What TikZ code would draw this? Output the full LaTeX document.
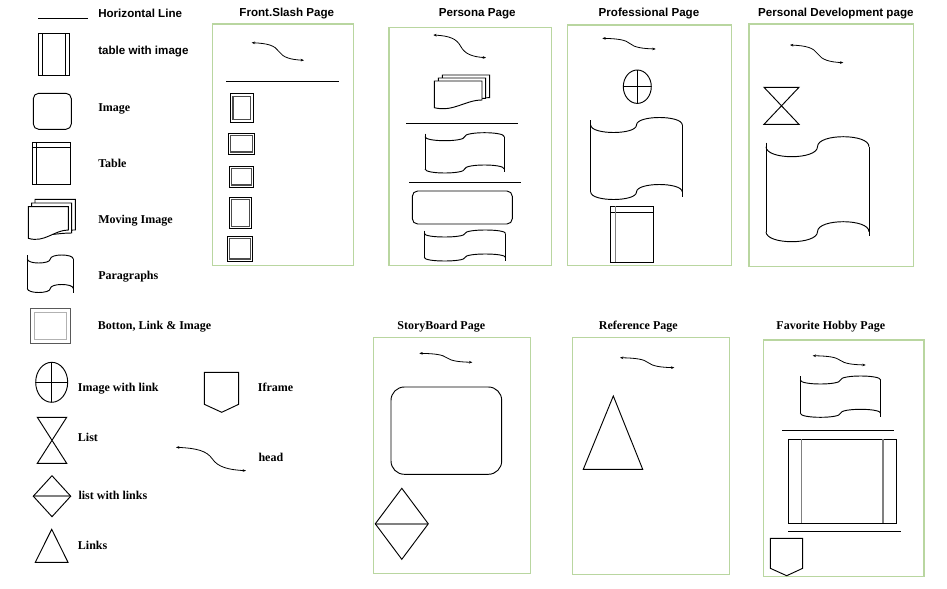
\documentclass[tikz,border=0pt]{standalone}
\usepackage{fontspec}
\setmainfont{Liberation Serif}
\setsansfont{Liberation Sans}
\usetikzlibrary{arrows.meta}
\definecolor{framegreen}{RGB}{185,214,160}
\tikzset{
 shp/.style={draw=black, line width=0.7pt},
 pageframe/.style={draw=framegreen, line width=0.8pt},
 sttl/.style={font=\sffamily\bfseries\fontsize{8.7}{10}\selectfont, inner sep=0pt, anchor=mid},
 slbl/.style={font=\sffamily\bfseries\fontsize{8.7}{10}\selectfont, inner sep=0pt, anchor=mid west},
 rlbl/.style={font=\rmfamily\bfseries\fontsize{9}{10}\selectfont, inner sep=0pt, anchor=mid west},
 rttl/.style={font=\rmfamily\bfseries\fontsize{9}{10}\selectfont, inner sep=0pt, anchor=mid},
 headline/.style={line width=0.6pt, {Stealth[length=2.5pt,width=2pt]}-{Stealth[length=2.5pt,width=2pt]}},
 grayline/.style={draw=gray, line width=1.3pt},
}
\newcommand\headarrow[5]{%
 \coordinate (#1a) at (#2,#3);
 \coordinate (#1b) at (#4,#5);
 \pgfmathsetmacro\hdx{#4-#2}%
 \pgfmathsetmacro\hdy{#5-#3}%
 \pgfmathsetmacro\hmx{#2+0.52*\hdx}%
 \pgfmathsetmacro\hmy{#3+0.5*\hdy}%
 \draw[headline] (#1a) .. controls +({0.3*\hdx},{0.04*\hdy}) and +({-0.08*\hdx},{-0.35*\hdy}) .. (\hmx,\hmy) .. controls +({0.08*\hdx},{0.35*\hdy}) and +({-0.25*\hdx},{-0.04*\hdy}) .. (#1b);
}
\newcommand\tape[6]{%
 \pgfmathsetmacro\tm{(#1+#2)/2}%
 \pgfmathsetmacro\ta{1.333*#5}%
 \draw[shp] (#1,{#3-#6}) -- (#1,#4);
 \draw[shp] (#2,#3) -- (#2,{#4+#6});
 \draw[shp] (#1,#3) .. controls (#1,{#3+\ta}) and (\tm,{#3+\ta}) .. (\tm,#3) .. controls (\tm,{#3-\ta}) and (#2,{#3-\ta}) .. (#2,#3);
 \draw[shp] (#1,#4) .. controls (#1,{#4+\ta}) and (\tm,{#4+\ta}) .. (\tm,#4) .. controls (\tm,{#4-\ta}) and (#2,{#4-\ta}) .. (#2,#4);
}
\newcommand\movsheet[5]{%
 \filldraw[shp, fill=white] (#1,#2) -- (#3,#2) -- (#3,#5) .. controls ({#3-0.35*(#3-#1)},{#5}) and ({#1+0.4*(#3-#1)},{#4+0.6*(#4-#5)}) .. (#1,#4) -- cycle;
}
\newcommand\hourglass[4]{%
 \draw[shp] (#1,#2) -- (#3,#2) -- (#1,#4) -- (#3,#4) -- cycle;
}
\newcommand\linkdiamond[4]{% x1 y1 x2 y2
 \pgfmathsetmacro\dcx{(#1+#3)/2}\pgfmathsetmacro\dcy{(#2+#4)/2}%
 \draw[grayline] (#1,\dcy) -- (#3,\dcy);
 \draw[shp] (\dcx,#2) -- (#3,\dcy) -- (\dcx,#4) -- (#1,\dcy) -- cycle;
}
\newcommand\iframeshape[6]{% x1 ytop x2 yside px py
 \draw[shp] (#1,#2) -- (#3,#2) -- (#3,#4) -- (#5,#6) -- (#1,#4) -- cycle;
}
\newcommand\btn[8]{%
 \draw[shp] (#1,#2) rectangle (#3,#4);
 \draw[draw=gray!60!black, line width=0.9pt] (#5,#6) rectangle (#7,#8);
}
\newcommand\imglink[4]{% cx cy rx ry
 \draw[shp] (#1,#2) ellipse [x radius=#3, y radius=#4];
 \draw[shp] ({#1-#3},#2) -- ({#1+#3},#2);
 \draw[shp] (#1,{#2-#4}) -- (#1,{#2+#4});
}
\begin{document}
\begin{tikzpicture}[x=0.75pt,y=-0.75pt]
\useasboundingbox (0,0) rectangle (947,589);
\fill[white] (0,0) rectangle (947,589);

% ---------------- legend ----------------
\draw[shp] (38,18.3) -- (88,18.3);
\node[slbl] (lhl) at (98,14) {Horizontal Line};

\draw[shp] (38.3,33.3) rectangle (69.3,75.3);
\draw[shp] (42.3,33.3) -- (42.3,75.3);
\draw[shp] (65.3,33.3) -- (65.3,75.3);
\node[slbl] (ltwi) at (98,51.5) {table with image};

\draw[shp, rounded corners=4pt] (33.3,93.3) rectangle (71.3,129.3);
\node[rlbl] (limg) at (98,108) {Image};

\draw[shp] (32.3,142.3) rectangle (70.3,184.3);
\draw[shp] (32.3,147.3) -- (70.3,147.3);
\draw[shp] (36.7,142.3) -- (36.7,184.3);
\node[rlbl] (ltab) at (98,164) {Table};

\movsheet{35}{199.3}{75.3}{231}{230}
\movsheet{31.7}{203}{71.7}{235}{233}
\movsheet{28.3}{206.7}{68.3}{238.3}{230}
\node[rlbl] (lmov) at (98,220) {Moving Image};

\tape{27.3}{73.3}{259}{288.5}{4}{4}
\node[rlbl] (lpar) at (98,276.5) {Paragraphs};

\draw[draw=gray!70!black, line width=0.6pt] (30,308.3) rectangle (70.7,343.3);
\draw[draw=gray!60, line width=1.1pt] (34.3,312.3) rectangle (66.3,339.3);
\node[rlbl] (lbtn) at (97.7,326) {Botton, Link \& Image};

\imglink{51.7}{382.3}{16}{20}
\node[rlbl] (liwl) at (77.7,388) {Image with link};

\iframeshape{204.3}{372.3}{238.7}{404.3}{221.7}{412.3}
\node[rlbl] (lifr) at (257.7,388) {Iframe};

\hourglass{37.3}{417.3}{66.7}{463.3}
\node[rlbl] (llst) at (77.7,438) {List};

\headarrow{hl}{176}{447.3}{246}{470.7}
\node[rlbl] (lhead) at (258.3,458) {head};

\linkdiamond{33.3}{475.7}{70.7}{516.7}
\node[rlbl] (llwl) at (78.3,496) {list with links};

\draw[shp] (51.7,529.3) -- (68,562.3) -- (35.3,562.3) -- cycle;
\node[rlbl] (llnk) at (77.7,546) {Links};

% ---------------- Front.Slash Page ----------------
\node[sttl] (tfront) at (286.8,13.5) {Front.Slash Page};
\draw[pageframe] (212.3,24) rectangle (353.7,265.7);
\headarrow{hf}{251.7}{42.7}{304}{60.3}
\draw[shp] (226,81.3) -- (339,81.3);
\btn{230.3}{93.3}{253.7}{122.3}{233}{96.3}{250.7}{119.3}
\btn{228.3}{133.3}{254.7}{154.3}{230.7}{135.7}{252.3}{152}
\btn{229.3}{166.3}{253.7}{187.3}{231.7}{168.7}{251.3}{185}
\btn{229.3}{197.3}{251.7}{228.7}{231.7}{199.7}{249.3}{226.3}
\btn{227.3}{236.3}{252.7}{261.3}{229.7}{238.7}{250.3}{259}

% ---------------- Persona Page ----------------
\node[sttl] (tpersona) at (477.2,13.5) {Persona Page};
\draw[pageframe] (389,27.3) rectangle (551.7,265.7);
\headarrow{hp}{433.3}{35}{486}{57.7}
\movsheet{442.3}{75}{489.7}{99}{97.7}
\movsheet{438.3}{78}{485.7}{103}{98.3}
\movsheet{434.3}{81}{482}{107.7}{100}
\draw[shp] (406,123.7) -- (517.7,123.7);
\tape{425}{504.3}{136.7}{169}{4}{3}
\draw[shp] (409.3,182.7) -- (521,182.7);
\draw[shp, rounded corners=4pt] (412.3,191) rectangle (512.3,224);
\tape{424.3}{505.7}{233.5}{257.5}{3.5}{3}

% ---------------- Professional Page ----------------
\node[sttl] (tprof) at (649,13.5) {Professional Page};
\draw[pageframe] (567.3,25) rectangle (731.7,265.7);
\headarrow{hr}{602.3}{38.3}{655.7}{49}
\imglink{637.3}{86.7}{14}{16.7}
\tape{590.7}{682.3}{125}{192}{7.5}{5}
\draw[shp] (610,206) rectangle (653.7,262.3);
\draw[shp] (610,212.7) -- (653.7,212.7);
\draw[draw=gray, line width=1.1pt] (615.7,206) -- (615.7,262.3);

% ---------------- Personal Development page ----------------
\node[sttl] (tdev) at (835.9,13.5) {Personal Development page};
\draw[pageframe] (749,24) rectangle (913.7,266.7);
\headarrow{hd}{790}{45}{843.3}{62.7}
\hourglass{764}{87.3}{799}{124.3}
\tape{766}{869}{146.7}{231.7}{10}{4}

% ---------------- StoryBoard Page ----------------
\node[rttl] (tstory) at (441.3,326.5) {StoryBoard Page};
\draw[pageframe] (373.3,337.3) rectangle (530.7,573.3);
\headarrow{hs}{419.3}{353.3}{472.3}{362.3}
\draw[shp, rounded corners=10pt] (391,387) rectangle (501.7,474.3);
\linkdiamond{375.3}{488.3}{428.3}{559.3}

% ---------------- Reference Page ----------------
\node[rttl] (tref) at (638.3,326.5) {Reference Page};
\draw[pageframe] (572.3,337.3) rectangle (729.7,574.3);
\headarrow{he}{620}{357.7}{674.3}{367.7}
\draw[shp] (613.3,396) -- (642.7,469.3) -- (583.3,469.3) -- cycle;

% ---------------- Favorite Hobby Page ----------------
\node[rttl] (thobby) at (830.8,326.5) {Favorite Hobby Page};
\draw[pageframe] (763.3,340) rectangle (924,576.7);
\headarrow{hh}{812.7}{355.7}{865.7}{365}
\tape{800.3}{880.7}{380}{413.3}{4}{4}
\draw[shp] (782.3,430.7) -- (894.3,430.7);
\draw[shp] (788.3,439.3) rectangle (896.7,523.3);
\draw[draw=gray, line width=1.1pt] (801.7,439.3) -- (801.7,523.3);
\draw[draw=gray, line width=1.1pt] (883,439.3) -- (883,523.3);
\draw[shp] (788.3,531.7) -- (900.7,531.7);
\iframeshape{770.3}{538.3}{802.7}{568.3}{786.7}{575.7}
\end{tikzpicture}
\end{document}
